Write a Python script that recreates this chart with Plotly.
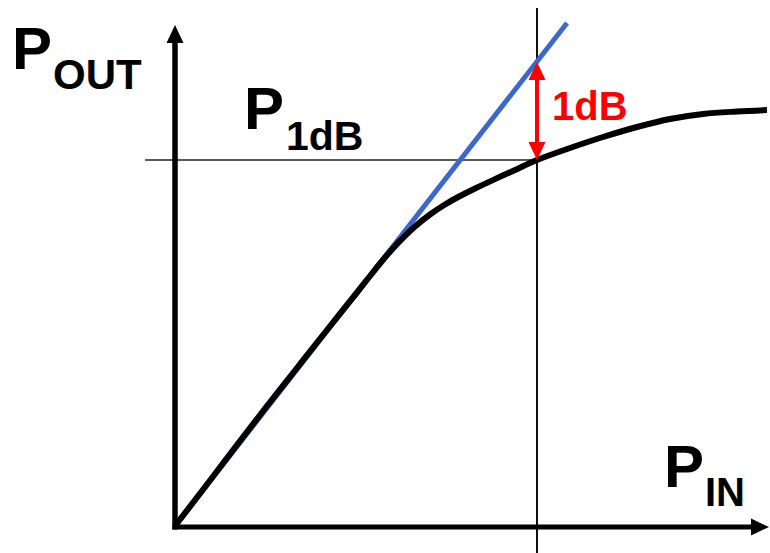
import plotly.graph_objects as go

# --- data (units: arbitrary power units, origin at axes corner) ---
pin = [0, 3, 6, 9, 12, 15, 18, 19.5, 21, 22.5, 24, 25.5, 27, 28.5, 30, 32, 34, 36.2,
       39.5, 42.8, 46.2, 49.5, 52.8, 56.2, 59.2]
pout = [0, 3.9, 7.85, 11.75, 15.55, 19.35, 23.1, 25.0, 26.85, 28.52, 29.95, 31.15, 32.15,
        33.0, 33.75, 34.69, 35.6, 36.6, 37.8, 38.9, 39.9, 40.7, 41.2, 41.45, 41.6]
tangent_x = [0, 39.2]
tangent_y = [0, 50.3]
p1db_in = 36.2
p1db_out = 36.6
linear_at_p1db = 46.4
axis_x_max = 59.4
axis_y_max = 50.1

XR = [-17.5, 59.5]
YR = [-2.7, 52.6]

fig = go.Figure()

fig.add_trace(go.Scatter(x=tangent_x, y=tangent_y, mode="lines",
                         line=dict(color="#3a68cf", width=5), hoverinfo="skip"))
fig.add_trace(go.Scatter(x=pin, y=pout, mode="lines", line_shape="spline",
                         line=dict(color="black", width=6), hoverinfo="skip"))

shapes = []
# guide lines
shapes.append(dict(type="line", x0=-3.0, x1=p1db_in, y0=p1db_out, y1=p1db_out,
                   line=dict(color="#222", width=1.5), layer="below"))
shapes.append(dict(type="line", x0=p1db_in, x1=p1db_in, y0=YR[0] - 1, y1=51.8,
                   line=dict(color="#111", width=2), layer="below"))
# axes
shapes.append(dict(type="line", x0=0, x1=0, y0=-0.35, y1=axis_y_max - 1.5,
                   line=dict(color="black", width=5.5)))
shapes.append(dict(type="line", x0=-0.25, x1=axis_x_max - 1.5, y0=-0.1, y1=-0.1,
                   line=dict(color="black", width=5)))

def tri(tipx, tipy, dx, dy, hw_x, hw_y):
    bx, by = tipx + dx, tipy + dy
    return (f"M {tipx},{tipy} L {bx + hw_x},{by + hw_y} L {bx - hw_x},{by - hw_y} Z")

# axis arrowheads
shapes.append(dict(type="path", path=tri(0, axis_y_max, 0, -1.8, 0.85, 0),
                   fillcolor="black", line=dict(width=0)))
shapes.append(dict(type="path", path=tri(axis_x_max, -0.1, -1.8, 0, 0, 0.85),
                   fillcolor="black", line=dict(width=0)))
# red 1 dB double arrow
red = "#ff0000"
shapes.append(dict(type="line", x0=p1db_in, x1=p1db_in, y0=p1db_out + 1.5, y1=linear_at_p1db - 1.5,
                   line=dict(color=red, width=4)))
shapes.append(dict(type="path", path=tri(p1db_in, linear_at_p1db, 0, -1.8, 0.85, 0),
                   fillcolor=red, line=dict(width=0)))
shapes.append(dict(type="path", path=tri(p1db_in, p1db_out, 0, 1.8, 0.85, 0),
                   fillcolor=red, line=dict(width=0)))

fig.update_layout(shapes=shapes)

FONT = "Liberation Sans, Arial, sans-serif"
def label(text, x, y, size, color="black"):
    fig.add_annotation(x=x, y=y, text=f"<b>{text}</b>", showarrow=False,
                       xanchor="center", yanchor="middle", borderpad=0,
                       font=dict(family=FONT, size=size, color=color))

label("P", -14.3, 47.75, 60)
label("OUT", -7.75, 45.2, 42)
label("P", 8.9, 41.8, 60)
label("1dB", 14.95, 39.05, 41)
label("P", 50.85, 6.0, 60)
label("IN", 54.95, 3.45, 40)
label("1dB", 41.5, 42.05, 40, red)

fig.update_layout(
    width=770, height=553, autosize=False,
    margin=dict(l=0, r=0, t=0, b=0),
    paper_bgcolor="white", plot_bgcolor="white",
    showlegend=False,
    xaxis=dict(range=XR, visible=False, fixedrange=True),
    yaxis=dict(range=YR, visible=False, fixedrange=True),
)

fig.write_html("out.html", config={"displayModeBar": False},
               post_script="document.body.style.margin='0';document.body.style.overflow='hidden';")
